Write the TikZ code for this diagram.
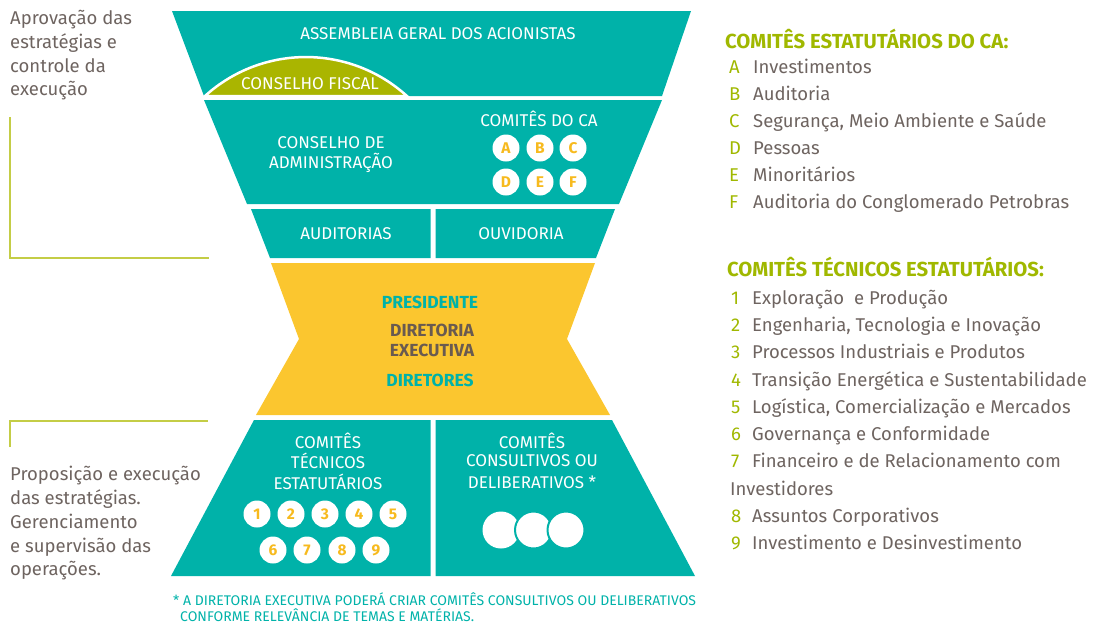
\documentclass[tikz,border=0pt]{standalone}
\usepackage{fontspec}
\setmainfont{Fira Sans}
\definecolor{tealA}{RGB}{0,178,169}
\definecolor{yelA}{RGB}{251,198,47}
\definecolor{fiscalA}{RGB}{170,181,0}
\definecolor{oliveT}{RGB}{160,184,0}
\definecolor{lineA}{RGB}{196,205,70}
\definecolor{greyT}{RGB}{110,100,96}
\definecolor{brownT}{RGB}{105,90,80}
\definecolor{numA}{RGB}{247,186,30}
\begin{document}
\begin{tikzpicture}[x=1pt,y=-1pt,
  box/.style={fill=tealA},
  wlbl/.style={text=white,inner sep=0pt,font=\fontsize{17}{20}\selectfont},
  dlbl/.style={inner sep=0pt,font=\fontsize{17.5}{20}\selectfont\bfseries},
  circ/.style={circle,fill=white,minimum size=27pt,inner sep=0pt,text=numA,font=\fontsize{15.5}{17}\selectfont\bfseries},
  bigc/.style={circle,fill=white,minimum size=37pt,inner sep=0pt},
  side/.style={anchor=base west,inner sep=0pt,text=greyT,font=\fontsize{18.5}{22}\selectfont},
  key/.style={anchor=base west,inner sep=0pt,text=oliveT,font=\fontsize{18.5}{22}\selectfont},
  head/.style={anchor=base west,inner sep=0pt,text=oliveT,font=\fontsize{20.3}{24}\selectfont\bfseries},
  foot/.style={anchor=base west,inner sep=0pt,text=tealA,font=\fontsize{14}{16}\selectfont},
  bracket/.style={draw=lineA,line width=2pt}
]
\useasboundingbox (0,0) rectangle (1097,624);

% ---- hourglass shapes
\fill[box] (172,11) -- (691,11) -- (662,96) -- (204,96) -- cycle;
\filldraw[fill=fiscalA,draw=white,line width=2.5pt] (205,96) arc[start angle=227.8,end angle=312.2,radius=150.3] -- cycle;
\fill[box] (204,100) -- (662,100) -- (619,204) -- (247,204) -- cycle;
\fill[box] (251,209) -- (430.5,209) -- (430.5,258) -- (270,258) -- cycle;
\fill[box] (435.5,209) -- (615,209) -- (596,258) -- (435.5,258) -- cycle;
\fill[yelA] (271,263) -- (595,263) -- (567,339) -- (610,415) -- (256,415) -- (299,339) -- cycle;
\fill[box] (254,420) -- (430.5,420) -- (430.5,576) -- (171,576) -- cycle;
\fill[box] (435.5,420) -- (612,420) -- (695,576) -- (435.5,576) -- cycle;

% ---- labels in shapes
\node[wlbl] (ag) at (438,34) {ASSEMBLEIA GERAL DOS ACIONISTAS};
\node[wlbl] (cf) at (310,84) {CONSELHO FISCAL};
\node[wlbl] (ca1) at (331,143) {CONSELHO DE};
\node[wlbl] (ca2) at (331,163) {ADMINISTRAÇÃO};
\node[wlbl] (cca) at (539,119) {COMITÊS DO CA};
\node[circ] (cA) at (506,148) {A};
\node[circ] (cB) at (540,148) {B};
\node[circ] (cC) at (573,148) {C};
\node[circ] (cD) at (506,182) {D};
\node[circ] (cE) at (540,182) {E};
\node[circ] (cF) at (573,182) {F};
\node[wlbl] (aud) at (346,234) {AUDITORIAS};
\node[wlbl] (ouv) at (521,234) {OUVIDORIA};
\node[dlbl,text=tealA] (pres) at (430,302) {PRESIDENTE};
\node[dlbl,text=brownT] (de1) at (432,330) {DIRETORIA};
\node[dlbl,text=brownT] (de2) at (432,350) {EXECUTIVA};
\node[dlbl,text=tealA] (dir) at (430,380) {DIRETORES};
\node[wlbl] (ct1) at (328,441) {COMITÊS};
\node[wlbl] (ct2) at (328,461) {TÉCNICOS};
\node[wlbl] (ct3) at (328,482) {ESTATUTÁRIOS};
\node[wlbl] (cc1) at (532,441) {COMITÊS};
\node[wlbl] (cc2) at (532,461) {CONSULTIVOS OU};
\node[wlbl] (cc3) at (532,482) {DELIBERATIVOS *};
\node[circ] (n1) at (257,514) {1};
\node[circ] (n2) at (291,514) {2};
\node[circ] (n3) at (325,514) {3};
\node[circ] (n4) at (359,514) {4};
\node[circ] (n5) at (393,514) {5};
\node[circ] (n6) at (273,550) {6};
\node[circ] (n7) at (307,550) {7};
\node[circ] (n8) at (342,550) {8};
\node[circ] (n9) at (376,550) {9};
\node[bigc] (k1) at (501,530) {};
\node[bigc,draw=tealA,line width=2pt] (k2) at (533.5,530) {};
\node[bigc,draw=tealA,line width=2pt] (k3) at (566,530) {};

% ---- footnote
\node[foot] (f1) at (173,605) {* A DIRETORIA EXECUTIVA PODERÁ CRIAR COMITÊS CONSULTIVOS OU DELIBERATIVOS};
\node[foot] (f2) at (180,621) {CONFORME RELEVÂNCIA DE TEMAS E MATÉRIAS.};

% ---- left side
\node[side] (l1) at (10,24) {Aprovação das};
\node[side] (l2) at (10,48) {estratégias e};
\node[side] (l3) at (10,72) {controle da};
\node[side] (l4) at (10,95) {execução};
\coordinate (b1a) at (10,117);
\coordinate (b1b) at (10,258);
\coordinate (b1c) at (209,258);
\draw[bracket] (b1a) -- (b1b) -- (b1c);
\coordinate (b2a) at (10,447);
\coordinate (b2b) at (10,421);
\coordinate (b2c) at (208,421);
\draw[bracket] (b2a) -- (b2b) -- (b2c);
\node[side] (p1) at (10,480) {Proposição e execução};
\node[side] (p2) at (10,504) {das estratégias.};
\node[side] (p3) at (10,528) {Gerenciamento};
\node[side] (p4) at (10,552) {e supervisão das};
\node[side] (p5) at (10,575) {operações.};

% ---- right lists
\node[head] (h1) at (725,48) {COMITÊS ESTATUTÁRIOS DO CA:};
\foreach \k/\t [count=\i] in {A/Investimentos,B/Auditoria,C/{Segurança, Meio Ambiente e Saúde},D/Pessoas,E/Minoritários,F/Auditoria do Conglomerado Petrobras}{
  \node[key] (ka\i) at (729,{46+27*\i}) {\k};
  \node[side] (ta\i) at (753,{46+27*\i}) {\t};
}
\node[head] (h2) at (727,276) {COMITÊS TÉCNICOS ESTATUTÁRIOS:};
\node[key] (kb1) at (731,304) {1};
\node[side] (tb1) at (752,304) {Exploração\ \ e Produção};
\node[key] (kb2) at (731,331) {2};
\node[side] (tb2) at (752,331) {Engenharia, Tecnologia e Inovação};
\node[key] (kb3) at (731,358) {3};
\node[side] (tb3) at (752,358) {Processos Industriais e Produtos};
\node[key] (kb4) at (731,386) {4};
\node[side] (tb4) at (752,386) {Transição Energética e Sustentabilidade};
\node[key] (kb5) at (731,413) {5};
\node[side] (tb5) at (752,413) {Logística, Comercialização e Mercados};
\node[key] (kb6) at (731,440) {6};
\node[side] (tb6) at (752,440) {Governança e Conformidade};
\node[key] (kb7) at (731,467) {7};
\node[side] (tb7) at (752,467) {Financeiro e de Relacionamento com};
\node[side] (tb7b) at (730,495) {Investidores};
\node[key] (kb8) at (731,522) {8};
\node[side] (tb8) at (752,522) {Assuntos Corporativos};
\node[key] (kb9) at (731,549) {9};
\node[side] (tb9) at (752,549) {Investimento e Desinvestimento};
\end{tikzpicture}
\end{document}
